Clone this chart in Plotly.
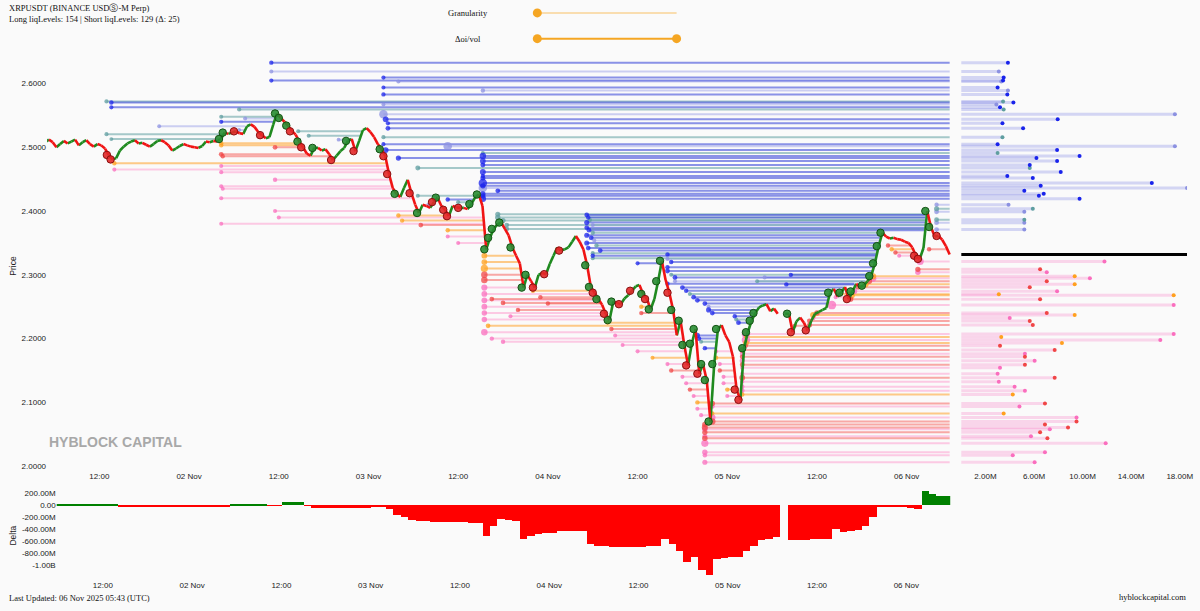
import pandas as pd
import plotly.graph_objects as go

W, H = 1200, 611
BASE = pd.Timestamp("2025-11-01 00:00")
END_H = 125.75          # last timestamp of the liq-level lines (hours after 01 Nov 00:00)
FIRST_OPEN = 2.508
CANDLE_START_H = 5.0
CANDLE_STEP_H = 0.5

# ---------------- price (30-min closes from 01 Nov 05:00, None = data gap) -------------
close = [
    2.512, 2.508, 2.500, 2.505, 2.510, 2.506, 2.509, 2.512, 2.503, 2.508,
    2.511, 2.505, 2.501, 2.505, 2.503, 2.498, 2.488, 2.481, 2.483, 2.495,
    2.501, 2.506, 2.509, 2.511, 2.506, 2.507, 2.504, 2.501, 2.505, 2.510,
    2.511, 2.508, 2.503, 2.495, 2.498, 2.502, 2.505, 2.503, 2.501, 2.500,
    2.499, 2.502, 2.509, 2.508, 2.510, 2.509, 2.513, 2.523, 2.521, 2.523,
    2.525, 2.522, 2.521, 2.533, 2.536, 2.532, 2.524, 2.519, 2.514, 2.516,
    2.535, 2.553, 2.546, 2.540, 2.534, 2.525, 2.520, 2.509, 2.500, 2.490,
    2.487, 2.499, 2.499, 2.495, 2.497, 2.489, 2.480, 2.487, 2.494, 2.499,
    2.510, 2.513, 2.494, 2.510, 2.527, 2.530, 2.524, 2.516, 2.505, 2.497,
    2.486, 2.458, 2.436, 2.427, 2.422, 2.436, 2.449, 2.428, 2.410, 2.397,
    2.410, 2.408, 2.405, 2.414, 2.421, 2.408, 2.402, 2.392, 2.408, 2.406,
    2.405, 2.405, 2.403, 2.411, 2.421, 2.426, 2.408, 2.340, 2.358, 2.372,
    2.379, 2.382, 2.372, 2.362, 2.343, 2.330, 2.318, 2.280, 2.300, 2.290,
    2.280, 2.300, 2.303, 2.301, 2.317, 2.330, 2.343, 2.338, 2.340, 2.343,
    2.352, 2.361, 2.352, 2.340, 2.315, 2.281, 2.272, 2.262, 2.253, 2.239,
    2.229, 2.258, 2.256, 2.254, 2.263, 2.268, 2.275, 2.282, 2.284, 2.270,
    2.262, 2.246, 2.262, 2.290, 2.322, 2.292, 2.272, 2.245, 2.205, 2.228,
    2.190, 2.158, 2.192, 2.215, 2.145, 2.160, 2.135, 2.070, 2.160, 2.215,
    2.221, 2.205, 2.195, 2.172, 2.120, 2.104, 2.185, 2.210, 2.228, 2.240,
    2.249, 2.252, 2.254, 2.243, 2.247, 2.239, None, None, 2.239, 2.210,
    2.227, 2.233, 2.225, 2.213, 2.228, 2.239, 2.242, 2.245, 2.248, 2.272,
    2.278, 2.266, 2.272, 2.281, 2.262, 2.274, 2.286, 2.281, 2.283, 2.290,
    2.298, 2.318, 2.345, 2.366, 2.360, 2.357, 2.358, 2.356, 2.355, 2.352,
    2.350, 2.343, 2.330, 2.325, 2.342, 2.400, 2.375, 2.360, 2.361, 2.355,
    2.345, 2.332,
]

# big trade markers on the price path (candle index)
buy_marks = [46, 47, 61, 62, 64, 67, 71, 80, 89, 93, 99, 104, 113, 115, 117, 118, 119,
             121, 124, 127, 128, 144, 145, 147, 150, 151, 159, 161, 163, 164, 167, 169,
             170, 172, 173, 175, 176, 177, 178, 179, 186, 187, 188, 189, 198, 209, 212,
             215, 218, 220, 221, 222, 223, 235, 236]
sell_marks = [16, 17, 50, 57, 65, 68, 76, 82, 90, 91, 97, 103, 106, 107, 110, 130, 133,
              137, 146, 149, 153, 156, 160, 166, 171, 174, 184, 185, 199, 203, 214, 232,
              233, 238]

# ---------------- short liquidation levels (above price) ----------------
short_price = [
    2.6327, 2.6187, 2.6093, 2.6046, 2.6031, 2.5937, 2.5891, 2.5829, 2.5719, 2.5704,
    2.5672, 2.5626, 2.5594, 2.5517, 2.5439, 2.5376, 2.5298, 2.5158, 2.5049, 2.5018,
    2.4956, 2.4909, 2.4862, 2.4831, 2.4784, 2.4722, 2.4675, 2.4613, 2.4550, 2.4519,
    2.4441, 2.4395, 2.4363, 2.4317, 2.4270, 2.4239, 2.4192, 2.4098, 2.4036, 2.3989,
    2.3865, 2.3818, 2.3709,
    2.5206, 2.5128, 2.5330, 2.5480, 2.5400, 2.5270, 2.5450,
    2.5250, 2.5180, 2.5120, 2.4240, 2.4180, 2.4140, 2.4100,
    2.3950, 2.3900, 2.3850, 2.3780, 2.3720,
    2.3940, 2.3900, 2.3860, 2.3820, 2.3780, 2.3740, 2.3700, 2.3660, 2.3620, 2.3580,
    2.3540, 2.3500, 2.3460, 2.3420, 2.3380, 2.3340,
    2.3300, 2.3260, 2.3180, 2.3120, 2.3060, 2.3000, 2.2960, 2.2900, 2.2860, 2.3320, 2.3250, 2.3200,
    2.2800, 2.2750, 2.2700, 2.2650, 2.2600, 2.2550, 2.2500, 2.2450, 2.2400, 2.2350, 2.2300, 2.2250,
    2.2050, 2.2000, 2.1950, 2.1850,
    2.2900, 2.2960, 2.2850, 2.3000,
]
short_start = [   # hours after 01 Nov 00:00
    35.0, 35.0, 50.0, 35.0, 52.0, 50.0, 63.3, 50.0, 12.95, 13.6,
    50.0, 13.6, 30.7, 50.0, 50.3, 50.6, 50.6, 50.0, 50.0, 58.6,
    50.3, 63.3, 63.3, 52.0, 63.3, 63.3, 54.6, 63.3, 63.3, 63.3,
    63.3, 63.3, 63.3, 65.3, 63.3, 63.3, 63.3, 124.0, 124.0, 124.0,
    124.0, 124.0, 124.0,
    12.95, 13.6, 20.0, 28.3, 28.3, 30.7, 31.5,
    38.6, 40.0, 44.0, 54.6, 58.6, 60.0, 56.0,
    65.3, 65.3, 66.0, 66.5, 66.5,
    77.2, 77.4, 77.6, 77.2, 78.0, 77.2, 77.5, 78.0, 77.2, 77.8,
    78.2, 77.2, 78.5, 77.4, 79.0, 78.0,
    78.0, 78.0, 84.0, 88.0, 88.0, 88.5, 89.0, 89.0, 88.0, 88.0, 88.0, 88.5,
    90.0, 90.5, 91.0, 91.5, 92.0, 93.0, 93.5, 93.5, 94.0, 97.0, 97.2, 97.5,
    92.0, 92.2, 92.5, 93.0,
    100.0, 101.0, 103.9, 104.5,
]
short_size = [   # millions
    3.85, 3.1, 3.5, 3.45, 3.3, 3.0, 3.85, 3.8, 3.45, 4.3,
    2.9, 3.2, 3.5, 17.6, 7.95, 3.4, 5.1, 3.4, 3.0, 17.6,
    7.9, 3.0, 9.75, 6.2, 7.9, 5.65, 5.65, 8.2, 3.8, 5.9,
    15.7, 6.55, 18.6, 5.2, 6.8, 6.4, 9.75, 3.9, 5.9, 5.2,
    5.2, 5.2, 5.2,
    3.0, 2.5, 2.5, 3.0, 3.5, 2.5, 3.0,
    3.0, 3.0, 2.5, 3.0, 4.0, 3.0, 2.5,
    6.0, 7.0, 6.0, 5.0, 5.0,
    5.0, 4.0, 4.0, 6.0, 3.0, 5.0, 5.0, 4.0, 6.0, 5.0,
    3.0, 6.0, 4.0, 5.0, 5.0, 3.0,
    4.0, 3.0, 3.0, 4.0, 5.0, 3.0, 5.0, 3.0, 4.0, 4.0, 3.0, 4.0,
    5.0, 4.0, 3.0, 5.0, 5.0, 5.0, 3.0, 6.0, 5.0, 4.0, 3.0, 5.0,
    6.0, 5.0, 3.0, 4.0,
    3.0, 3.0, 4.0, 4.0,
]
short_tier = [   # 2 = large (blue), 1 = medium (teal), 0 = small (lavender)
    2, 0, 2, 2, 0, 2, 0, 2, 1, 2,
    0, 2, 1, 0, 2, 2, 2, 1, 2, 0,
    2, 1, 2, 2, 2, 2, 1, 2, 2, 2,
    2, 2, 0, 2, 2, 2, 2, 0, 1, 0,
    1, 0, 0,
    1, 1, 0, 1, 2, 0, 0,
    1, 1, 0, 1, 2, 1, 0,
    1, 1, 1, 1, 1,
    2, 2, 1, 2, 0, 2, 2, 1, 2, 2,
    0, 2, 1, 2, 2, 1,
    2, 1, 2, 2, 2, 1, 2, 0, 2, 2, 0, 2,
    2, 2, 1, 2, 2, 2, 0, 2, 2, 2, 1, 2,
    2, 2, 1, 2,
    1, 0, 2, 2,
]

# ---------------- long liquidation levels (below price) ----------------
long_price = [
    2.3210, 2.3086, 2.3039, 2.2977, 2.2945, 2.2899, 2.2852, 2.2805, 2.2743, 2.2696,
    2.2680, 2.2618, 2.2525, 2.2400, 2.2369, 2.2322, 2.2275, 2.2213, 2.2073, 2.2026,
    2.1979, 2.1932, 2.1886, 2.1823, 2.1761, 2.1714, 2.1652, 2.1590, 2.1543, 2.1449,
    2.1387, 2.1325, 2.1247, 2.1184, 2.1122, 2.0982, 2.0935, 2.0826, 2.0764, 2.0701,
    2.0655, 2.0608, 2.0577, 2.0530, 2.0468, 2.0436, 2.0358, 2.0218, 2.0171, 2.0062,
    2.5065, 2.5030, 2.4890, 2.4860, 2.4706, 2.4610, 2.4390, 2.4350, 2.5000, 2.4490,
    2.4750, 2.4650, 2.4200, 2.4000, 2.3900, 2.3800,
    2.3930, 2.3850, 2.3780, 2.3700, 2.3600, 2.3500,
    2.3300, 2.3200, 2.3100, 2.3000, 2.2920, 2.2800, 2.2700, 2.2600, 2.2500, 2.2400,
    2.2300, 2.2100, 2.2200, 2.2000, 2.1950, 2.2350, 2.2450, 2.2620, 2.2560, 2.2750,
    2.2650, 2.2550,
    2.2250, 2.2150, 2.2050, 2.1900, 2.1800, 2.1700, 2.1600, 2.1500, 2.2400, 2.2500,
    2.1400, 2.1300, 2.1200, 2.1100, 2.1000, 2.0900, 2.0800,
    2.1800, 2.1700, 2.1600, 2.1500, 2.1400, 2.1300, 2.1200, 2.1100,
    2.2200, 2.2650, 2.2700,
    2.3400, 2.3350, 2.3300, 2.3460, 2.3400,
]
long_start = [
    121.8, 121.5, 121.5, 115.5, 115.5, 115.0, 114.5, 113.5, 113.0, 112.5,
    112.5, 112.5, 110.0, 108.0, 107.5, 107.5, 107.0, 107.0, 98.5, 98.5,
    98.5, 98.5, 98.5, 98.0, 98.0, 98.0, 98.0, 98.0, 98.0, 98.0,
    98.0, 98.0, 98.0, 98.0, 98.0, 94.0, 94.0, 94.0, 94.0, 94.0,
    93.0, 93.0, 93.0, 93.0, 93.0, 93.0, 93.0, 93.0, 93.0, 93.0,
    28.3, 28.3, 28.3, 28.5, 28.3, 28.3, 28.3, 28.5, 35.5, 35.5,
    14.0, 14.0, 28.3, 35.5, 36.0, 28.3,
    52.0, 52.5, 55.0, 58.6, 58.6, 60.0,
    63.5, 63.5, 63.5, 63.5, 63.5, 63.5, 63.5, 63.5, 63.5, 63.5,
    63.5, 63.5, 64.0, 64.5, 66.0, 67.0, 68.0, 64.5, 66.0, 70.0,
    71.0, 72.0,
    80.0, 80.5, 81.0, 82.0, 84.0, 86.0, 88.0, 88.5, 84.5, 84.5,
    90.0, 90.5, 91.0, 91.5, 92.0, 92.0, 92.5,
    94.5, 94.5, 95.0, 95.0, 95.5, 95.5, 96.0, 96.0,
    105.0, 110.5, 111.0,
    118.0, 118.5, 119.0, 117.5, 123.0,
]
long_size = [
    11.8, 6.5, 7.05, 9.35, 10.6, 7.05, 9.35, 5.65, 7.9, 3.1,
    17.5, 6.5, 17.5, 7.05, 9.35, 4.0, 5.65, 5.9, 17.5, 3.3,
    16.4, 8.3, 3.2, 7.7, 5.25, 5.25, 6.05, 5.25, 3.2, 3.0,
    7.7, 3.1, 4.4, 5.25, 4.25, 6.9, 4.8, 3.5, 9.5, 9.5,
    6.9, 8.8, 7.3, 6.5, 5.75, 7.1, 11.9, 6.9, 4.25, 6.05,
    4, 4, 5, 4, 3, 3, 3, 3, 5, 4,
    4, 3, 3, 3, 3, 3,
    4, 4, 5, 4, 3, 3,
    8, 8, 12, 10, 10, 9, 8, 8, 8, 7,
    7, 10, 5, 4, 4, 3, 4, 5, 5, 4,
    4, 4,
    4, 4, 3, 3, 3, 3, 3, 4, 4, 4,
    3, 3, 4, 3, 4, 3, 3,
    3, 4, 3, 4, 3, 3, 4, 3,
    4, 3, 4,
    4, 4, 3, 4, 4,
]
long_tier = [   # 2 = large (red), 1 = medium (orange), 0 = small (pink)
    0, 2, 0, 1, 0, 2, 1, 2, 0, 1,
    1, 2, 0, 2, 1, 0, 2, 2, 0, 1,
    0, 1, 2, 2, 0, 2, 0, 2, 0, 0,
    2, 0, 0, 0, 1, 2, 0, 1, 0, 2,
    2, 2, 0, 2, 0, 2, 0, 0, 0, 0,
    1, 1, 2, 2, 0, 0, 0, 0, 2, 0,
    1, 0, 0, 0, 0, 0,
    1, 1, 2, 1, 0, 0,
    1, 1, 1, 2, 2, 0, 0, 0, 0, 0,
    0, 0, 1, 0, 0, 0, 2, 2, 2, 1,
    2, 2,
    1, 2, 0, 0, 0, 1, 0, 2, 2, 1,
    0, 0, 2, 0, 1, 0, 0,
    0, 1, 0, 2, 0, 0, 1, 0,
    2, 0, 1,
    1, 2, 0, 2, 2,
]

# ---------------- delta (hourly, millions, from 01 Nov 05:00; None = gap) ----------------
delta = [
    8, 10, 10, 10, 10, 10, 10, 10, 10, -15,
    -15, -15, -15, -15, -15, -15, -12, -12, -12, -12,
    -12, -12, -12, -12, 20, 20, 20, 20, 20, -8,
    -8, 55, 60, 50, -8, -40, -40, -40, -40, -40,
    -40, -40, -40, -15, -15, -60, -170, -200, -240, -265,
    -270, -275, -275, -280, -285, -285, -290, -290, -510, -345,
    -230, -250, -265, -570, -510, -480, -470, -470, -440, -440,
    -430, -430, -650, -680, -690, -695, -700, -700, -700, -695,
    -690, -680, -560, -650, -760, -950, -870, -1090, -1170, -900,
    -880, -870, -870, -760, -680, -590, -560, -530, None, -590,
    -585, -575, -570, -565, -560, -390, -445, -430, -420, -350,
    -200, -30, -20, -30, -35, -40, -60, 240, 190, 160,
    150,
]
DELTA_START_H = 5

price_ticks = [2.0, 2.1, 2.2, 2.3, 2.4, 2.5, 2.6]
time_tick_h = [12, 24, 36, 48, 60, 72, 84, 96, 108, 120]
time_tick_text = ["12:00", "02 Nov", "12:00", "03 Nov", "12:00", "04 Nov", "12:00", "05 Nov", "12:00", "06 Nov"]
size_ticks = [2, 6, 10, 14, 18]
size_tick_text = ["2.00M", "6.00M", "10.00M", "14.00M", "18.00M"]
delta_ticks = [200, 0, -200, -400, -600, -800, -1000]
delta_tick_text = ["200.00M", "0.00", "-200.00M", "-400.00M", "-600.00M", "-800.00M", "-1.00B"]


def at(hours):
    return (BASE + pd.Timedelta(hours=float(hours))).strftime("%Y-%m-%d %H:%M:%S")


def px(x):
    return x / W


def py(y):
    return 1 - y / H


# ---------------- candles ----------------
c_h, c_o, c_hi, c_lo, c_c = [], [], [], [], []
idx_map = {}
prev = FIRST_OPEN
for i, v in enumerate(close):
    if v is None:
        continue
    t = CANDLE_START_H + CANDLE_STEP_H * i
    idx_map[i] = t
    c_h.append(t)
    c_o.append(prev)
    c_c.append(v)
    c_hi.append(max(prev, v))
    c_lo.append(min(prev, v))
    prev = v
last_price = c_c[-1]


def level_life(price, start, side):
    for t, hi, lo in zip(c_h, c_hi, c_lo):
        if t <= start:
            continue
        if side == "short" and hi >= price:
            return t, True
        if side == "long" and lo <= price:
            return t, True
    return END_H, False


SHORT_LINE = {2: "rgba(45,60,215,0.55)", 1: "rgba(95,158,160,0.55)", 0: "rgba(125,135,225,0.38)"}
LONG_LINE = {2: "rgba(245,100,95,0.55)", 1: "rgba(255,160,40,0.55)", 0: "rgba(255,120,190,0.38)"}
SHORT_DOT = {2: "rgb(25,35,235)", 1: "rgb(95,158,160)", 0: "rgb(140,145,225)"}
LONG_DOT = {2: "rgb(240,70,70)", 1: "rgb(255,160,30)", 0: "rgb(250,110,190)"}
PANEL_LINE = {"short": "rgba(110,120,225,0.28)", "long": "rgba(250,130,200,0.30)"}

fig = go.Figure()


def add_levels(side, prices, starts, sizes, tiers, line_col, dot_col):
    seg = {k: ([], []) for k in line_col}
    dots = {k: ([], [], []) for k in line_col}
    alive = {k: ([], []) for k in line_col}
    alive_line = ([], [])
    for p, s, sz, tr in zip(prices, starts, sizes, tiers):
        end, _hit = level_life(p, s, side)
        seg[tr][0].extend([at(s), at(end), None])
        seg[tr][1].extend([p, p, None])
        dots[tr][0].append(at(s))
        dots[tr][1].append(p)
        dots[tr][2].append(min(3 + 0.35 * sz, 8.5))
        if not _hit:
            alive[tr][0].append(sz)
            alive[tr][1].append(p)
            alive_line[0].extend([0, sz, None])
            alive_line[1].extend([p, p, None])
    for tr in (0, 1, 2):
        fig.add_trace(go.Scatter(x=seg[tr][0], y=seg[tr][1], mode="lines",
                                 line=dict(color=line_col[tr], width=2),
                                 hoverinfo="skip", xaxis="x", yaxis="y"))
    for tr in (0, 1, 2):
        fig.add_trace(go.Scatter(x=dots[tr][0], y=dots[tr][1], mode="markers",
                                 marker=dict(color=dot_col[tr], size=dots[tr][2], opacity=0.75,
                                             line=dict(width=0)),
                                 hoverinfo="skip", xaxis="x", yaxis="y"))
    fig.add_trace(go.Scatter(x=alive_line[0], y=alive_line[1], mode="lines",
                             line=dict(color=PANEL_LINE[side], width=3),
                             hoverinfo="skip", xaxis="x2", yaxis="y"))
    for tr in (0, 1, 2):
        fig.add_trace(go.Scatter(x=alive[tr][0], y=alive[tr][1], mode="markers",
                                 marker=dict(color=dot_col[tr], size=4),
                                 hoverinfo="skip", xaxis="x2", yaxis="y"))


add_levels("long", long_price, long_start, long_size, long_tier, LONG_LINE, LONG_DOT)
add_levels("short", short_price, short_start, short_size, short_tier, SHORT_LINE, SHORT_DOT)

# price path: each 30-min candle drawn as a coloured open->close stroke
half = CANDLE_STEP_H / 2
up_x, up_y, dn_x, dn_y = [], [], [], []
for t, o, c in zip(c_h, c_o, c_c):
    xs, ys = (up_x, up_y) if c >= o else (dn_x, dn_y)
    xs.extend([at(t - half), at(t + half), None])
    ys.extend([o, c, None])
fig.add_trace(go.Scatter(x=up_x, y=up_y, mode="lines", line=dict(color="#1f8a1f", width=2.6),
                         hoverinfo="skip", xaxis="x", yaxis="y"))
fig.add_trace(go.Scatter(x=dn_x, y=dn_y, mode="lines", line=dict(color="#f01414", width=2.6),
                         hoverinfo="skip", xaxis="x", yaxis="y"))

fig.add_trace(go.Scatter(
    x=[at(idx_map[i]) for i in buy_marks], y=[close[i] for i in buy_marks], mode="markers",
    marker=dict(size=7.5, color="rgba(40,140,50,0.9)", line=dict(color="#145214", width=1)),
    hoverinfo="skip", xaxis="x", yaxis="y"))
fig.add_trace(go.Scatter(
    x=[at(idx_map[i]) for i in sell_marks], y=[close[i] for i in sell_marks], mode="markers",
    marker=dict(size=7.5, color="rgba(225,40,40,0.9)", line=dict(color="#8a1010", width=1)),
    hoverinfo="skip", xaxis="x", yaxis="y"))

# current price line in the right panel
fig.add_trace(go.Scatter(x=[0, 18.6], y=[last_price, last_price], mode="lines",
                         line=dict(color="black", width=3), hoverinfo="skip",
                         xaxis="x2", yaxis="y"))

# delta bars
d_x, d_y, d_c = [], [], []
for j, v in enumerate(delta):
    if v is None:
        continue
    d_x.append(at(DELTA_START_H + j + 0.5))
    d_y.append(v)
    d_c.append("#008000" if v >= 0 else "#ff0000")
fig.add_trace(go.Bar(x=d_x, y=d_y, marker=dict(color=d_c, line=dict(width=0)),
                     width=3600 * 1000, hoverinfo="skip", xaxis="x3", yaxis="y3"))

tick_font = dict(family="Liberation Sans, Arial, sans-serif", size=8, color="#222")
serif = "Liberation Serif, Times New Roman, serif"

axis_common = dict(showgrid=False, zeroline=False, showline=False, ticks="",
                   tickfont=tick_font, fixedrange=True)

fig.update_layout(
    width=W, height=H,
    margin=dict(l=0, r=0, t=0, b=0),
    paper_bgcolor="#fafafa", plot_bgcolor="#fafafa",
    showlegend=False, bargap=0,
    xaxis=dict(domain=[px(47.3), px(956.3)], anchor="y", type="date",
               range=[at(5.0), at(126.0)], tickmode="array",
               tickvals=[at(h) for h in time_tick_h], ticktext=time_tick_text,
               ticklabelstandoff=4, **axis_common),
    yaxis=dict(domain=[py(470), py(55)], anchor="x", range=[2.0, 2.6454],
               tickmode="array", tickvals=price_ticks, tickformat=".4f", **axis_common),
    xaxis2=dict(domain=[px(966), px(1193)], anchor="y", range=[0, 18.6],
                tickmode="array", tickvals=size_ticks, ticktext=size_tick_text,
                ticklabelstandoff=4, **axis_common),
    xaxis3=dict(domain=[px(57), px(955)], anchor="y3", type="date",
                range=[at(5.8), at(125.9)], tickmode="array",
                tickvals=[at(h) for h in time_tick_h], ticktext=time_tick_text,
                ticklabelstandoff=3, **axis_common),
    yaxis3=dict(domain=[py(581), py(488)], anchor="x3", range=[-1192, 358],
                tickmode="array", tickvals=delta_ticks, ticktext=delta_tick_text, **axis_common),
)

ann = [
    dict(x=px(7), y=py(8), text="XRPUSDT (BINANCE USDⓈ-M Perp)", xanchor="left",
         font=dict(family=serif, size=8.5, color="#111")),
    dict(x=px(7), y=py(19), text="Long liqLevels: 154 | Short liqLevels: 129 (Δ: 25)",
         xanchor="left", font=dict(family=serif, size=8.5, color="#111")),
    dict(x=px(470), y=py(13), text="Granularity", xanchor="center",
         font=dict(family=serif, size=8.5, color="#111")),
    dict(x=px(470), y=py(39), text="Δoi/vol", xanchor="center",
         font=dict(family=serif, size=8.5, color="#111")),
    dict(x=px(7), y=py(603), text="Last Updated: 06 Nov 2025 05:43 (UTC)", xanchor="left",
         font=dict(family=serif, size=8.5, color="#111")),
    dict(x=px(1194), y=py(602), text="hyblockcapital.com", xanchor="right",
         font=dict(family=serif, size=8.5, color="#111")),
    dict(x=px(47), y=py(446), text="<b>HYBLOCK CAPITAL</b>", xanchor="left",
         font=dict(family="Liberation Sans, Arial, sans-serif", size=14, color="#a8a8a8")),
    dict(x=px(13), y=py(268), text="Price", textangle=-90, xanchor="center",
         font=dict(family="Liberation Sans, Arial, sans-serif", size=8.5, color="#222")),
    dict(x=px(13), y=py(540), text="Delta", textangle=-90, xanchor="center",
         font=dict(family="Liberation Sans, Arial, sans-serif", size=8.5, color="#222")),
]
for a in ann:
    a.update(xref="paper", yref="paper", yanchor="middle", showarrow=False)
fig.update_layout(annotations=ann)

# decorative slider widgets
ORANGE = "#f5a623"
shapes = [
    dict(type="line", xref="paper", yref="paper", x0=px(540), x1=px(680), y0=py(13), y1=py(13),
         line=dict(color="rgba(245,166,35,0.35)", width=2)),
    dict(type="line", xref="paper", yref="paper", x0=px(540), x1=px(680), y0=py(39), y1=py(39),
         line=dict(color=ORANGE, width=2)),
]
for cx, cy in [(540, 13), (540, 39), (680, 39)]:
    shapes.append(dict(type="circle", xref="paper", yref="paper", xsizemode="pixel",
                       ysizemode="pixel", xanchor=px(cx), yanchor=py(cy),
                       x0=-4.5, x1=4.5, y0=-4.5, y1=4.5,
                       fillcolor=ORANGE, line=dict(color=ORANGE, width=0)))
fig.update_layout(shapes=shapes)

fig.write_html("out.html")
